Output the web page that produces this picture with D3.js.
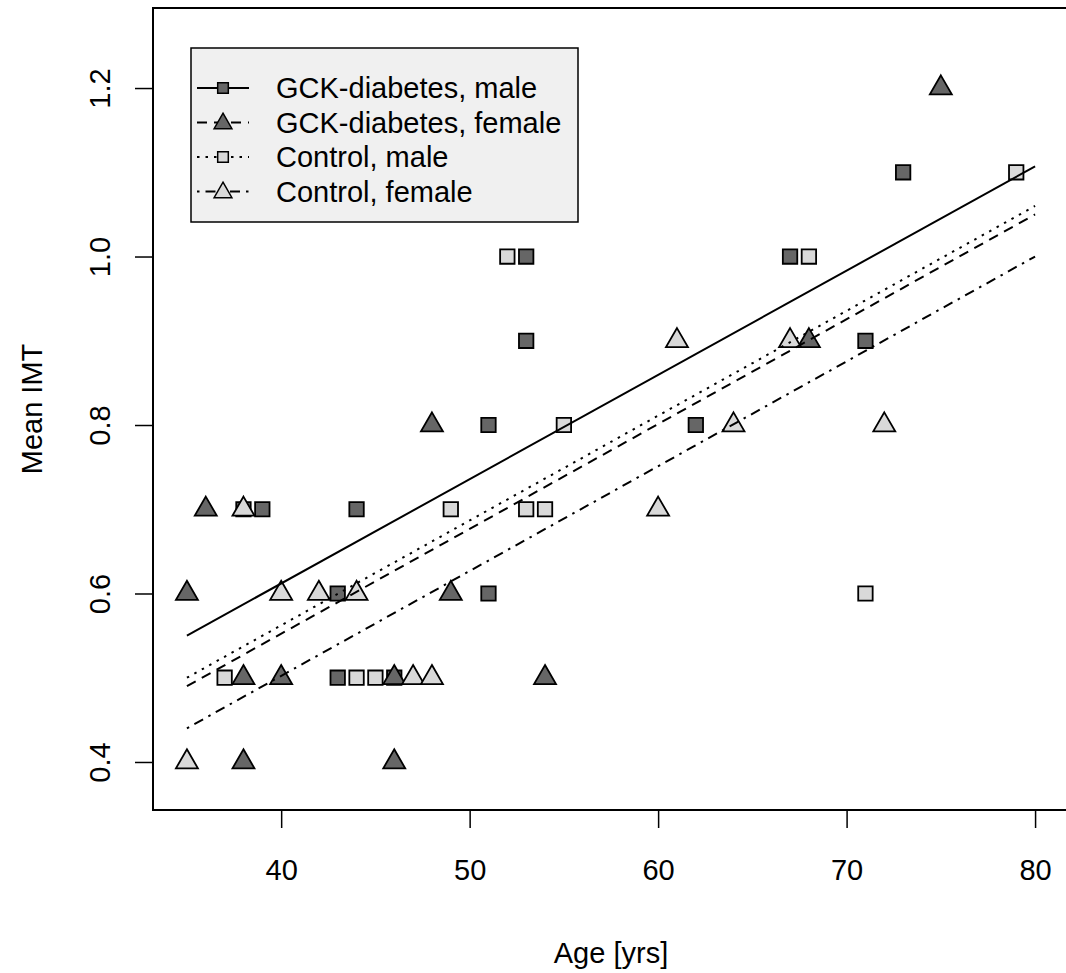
<!DOCTYPE html>
<html>
<head>
<meta charset="utf-8">
<script src="https://cdn.jsdelivr.net/npm/d3@7"></script>
<style>
  html, body { margin: 0; padding: 0; background: #fff; }
  svg { display: block; font-family: "Liberation Sans", Arial, sans-serif; }
</style>
</head>
<body>
<svg id="chart" width="1066" height="973"></svg>
<script>
// ---- data ----
const gckMaleAge   = [38, 39, 44, 43, 43, 51, 51, 53, 53, 46, 62, 67, 71, 73];
const gckMaleImt   = [0.7, 0.7, 0.7, 0.6, 0.5, 0.8, 0.6, 1.0, 0.9, 0.5, 0.8, 1.0, 0.9, 1.1];
const gckFemaleAge = [35, 36, 38, 38, 40, 46, 46, 48, 49, 54, 68, 75];
const gckFemaleImt = [0.6, 0.7, 0.5, 0.4, 0.5, 0.5, 0.4, 0.8, 0.6, 0.5, 0.9, 1.2];
const ctrlMaleAge  = [37, 44, 45, 49, 52, 53, 54, 55, 68, 71, 79];
const ctrlMaleImt  = [0.5, 0.5, 0.5, 0.7, 1.0, 0.7, 0.7, 0.8, 1.0, 0.6, 1.1];
const ctrlFemaleAge = [35, 38, 40, 42, 44, 47, 48, 60, 61, 64, 67, 72];
const ctrlFemaleImt = [0.4, 0.7, 0.6, 0.6, 0.6, 0.5, 0.5, 0.7, 0.9, 0.8, 0.9, 0.8];

// fitted lines (age, predicted mean IMT)
const fitAges       = [35, 80];
const fitGckMale    = [0.550, 1.107];
const fitGckFemale  = [0.490, 1.050];
const fitCtrlMale   = [0.500, 1.060];
const fitCtrlFemale = [0.440, 1.000];

const xTicks = [40, 50, 60, 70, 80];
const yTicks = [0.4, 0.6, 0.8, 1.0, 1.2];
const seriesNames = ["GCK-diabetes, male", "GCK-diabetes, female", "Control, male", "Control, female"];

// ---- layout ----
const svg = d3.select("#chart");
const FS = 29;
const plot = { left: 153, right: 1069, top: 8, bottom: 810 };
const x = d3.scaleLinear().domain([33.2, 81.8]).range([plot.left, plot.right]);
const y = d3.scaleLinear().domain([0.343, 1.295]).range([plot.bottom, plot.top]);

const DARK = "#666666", LIGHT = "#d9d9d9";

const series = [
  { name: seriesNames[0], age: gckMaleAge,    imt: gckMaleImt,    fit: fitGckMale,    shape: "square",   fill: DARK,  dash: null },
  { name: seriesNames[1], age: gckFemaleAge,  imt: gckFemaleImt,  fit: fitGckFemale,  shape: "triangle", fill: DARK,  dash: "10,7" },
  { name: seriesNames[2], age: ctrlMaleAge,   imt: ctrlMaleImt,   fit: fitCtrlMale,   shape: "square",   fill: LIGHT, dash: "2.5,6" },
  { name: seriesNames[3], age: ctrlFemaleAge, imt: ctrlFemaleImt, fit: fitCtrlFemale, shape: "triangle", fill: LIGHT, dash: "2.5,6,10,6" }
];

function markerPath(shape, s) {
  if (shape === "square") {
    const h = s * 0.885;
    return `M${-h},${-h}H${h}V${h}H${-h}Z`;
  }
  const r = 1.555 * s, xc = 1.347 * s, yc = 0.778 * s;
  return `M0,${-r}L${xc},${yc}L${-xc},${yc}Z`;
}

const g = svg.append("g");
g.append("defs").append("clipPath").attr("id", "clip")
  .append("rect").attr("x", plot.left).attr("y", plot.top)
  .attr("width", plot.right - plot.left).attr("height", plot.bottom - plot.top);

// points
const pts = g.append("g").attr("clip-path", "url(#clip)");
series.forEach(sr => {
  pts.selectAll(null).data(sr.age.map((a, i) => [a, sr.imt[i]])).enter()
    .append("path")
    .attr("d", markerPath(sr.shape, 8.15))
    .attr("transform", d => `translate(${x(d[0])},${y(d[1])})`)
    .attr("fill", sr.fill).attr("stroke", "#000").attr("stroke-width", 1.8)
    .attr("stroke-linejoin", "miter");
});

// fitted lines
const line = d3.line().x(d => x(d[0])).y(d => y(d[1]));
series.forEach(sr => {
  pts.append("path")
    .attr("d", line(fitAges.map((a, i) => [a, sr.fit[i]])))
    .attr("fill", "none").attr("stroke", "#000").attr("stroke-width", 2)
    .attr("stroke-dasharray", sr.dash);
});

// frame
g.append("rect").attr("x", plot.left).attr("y", plot.top)
  .attr("width", plot.right - plot.left).attr("height", plot.bottom - plot.top)
  .attr("fill", "none").attr("stroke", "#000").attr("stroke-width", 2);

// axes
const xAxis = d3.axisBottom(x).tickValues(xTicks).tickSize(18).tickPadding(8).tickFormat(d3.format("d"));
const xg = g.append("g").attr("transform", `translate(0,${plot.bottom})`).call(xAxis);
xg.select(".domain").remove();
xg.selectAll(".tick line").attr("stroke-width", 1.5);
xg.selectAll(".tick text").attr("font-size", FS).attr("font-family", "Liberation Sans, Arial, sans-serif")
  .attr("fill", "#000").attr("y", 60).attr("dy", "0.35em");

const yAxis = d3.axisLeft(y).tickValues(yTicks).tickSize(18).tickFormat(d3.format(".1f"));
const yg = g.append("g").attr("transform", `translate(${plot.left},0)`).call(yAxis);
yg.select(".domain").remove();
yg.selectAll(".tick line").attr("stroke-width", 1.5);
yg.selectAll(".tick text").attr("font-size", FS).attr("font-family", "Liberation Sans, Arial, sans-serif")
  .attr("fill", "#000")
  .attr("x", null).attr("dy", null)
  .attr("text-anchor", "middle")
  .attr("transform", "translate(-53,0) rotate(-90)")
  .attr("y", 0).attr("dy", "0.35em");

// axis titles
g.append("text").attr("x", (plot.left + plot.right) / 2).attr("y", 953).attr("dy", "0.35em")
  .attr("text-anchor", "middle").attr("font-size", FS).text("Age [yrs]");
g.append("text").attr("transform", `translate(32,${(plot.top + plot.bottom) / 2}) rotate(-90)`)
  .attr("dy", "0.35em").attr("text-anchor", "middle").attr("font-size", FS).text("Mean IMT");

// legend
const lg = g.append("g");
lg.append("rect").attr("x", 191).attr("y", 48).attr("width", 387).attr("height", 174)
  .attr("fill", "#f0f0f0").attr("stroke", "#000").attr("stroke-width", 1.5);
series.forEach((sr, i) => {
  const cy = 88 + i * 34.5;
  lg.append("line").attr("x1", 197).attr("x2", 249).attr("y1", cy).attr("y2", cy)
    .attr("stroke", "#000").attr("stroke-width", 1.8).attr("stroke-dasharray", sr.dash);
  lg.append("path").attr("d", markerPath(sr.shape, sr.shape === "square" ? 6 : 6.6))
    .attr("transform", `translate(223,${cy + (sr.shape === "triangle" ? 1 : 0)})`)
    .attr("fill", sr.fill).attr("stroke", "#000").attr("stroke-width", 1.5);
  lg.append("text").attr("x", 276).attr("y", cy).attr("dy", "0.35em")
    .attr("font-size", FS).text(sr.name);
});
</script>
</body>
</html>
